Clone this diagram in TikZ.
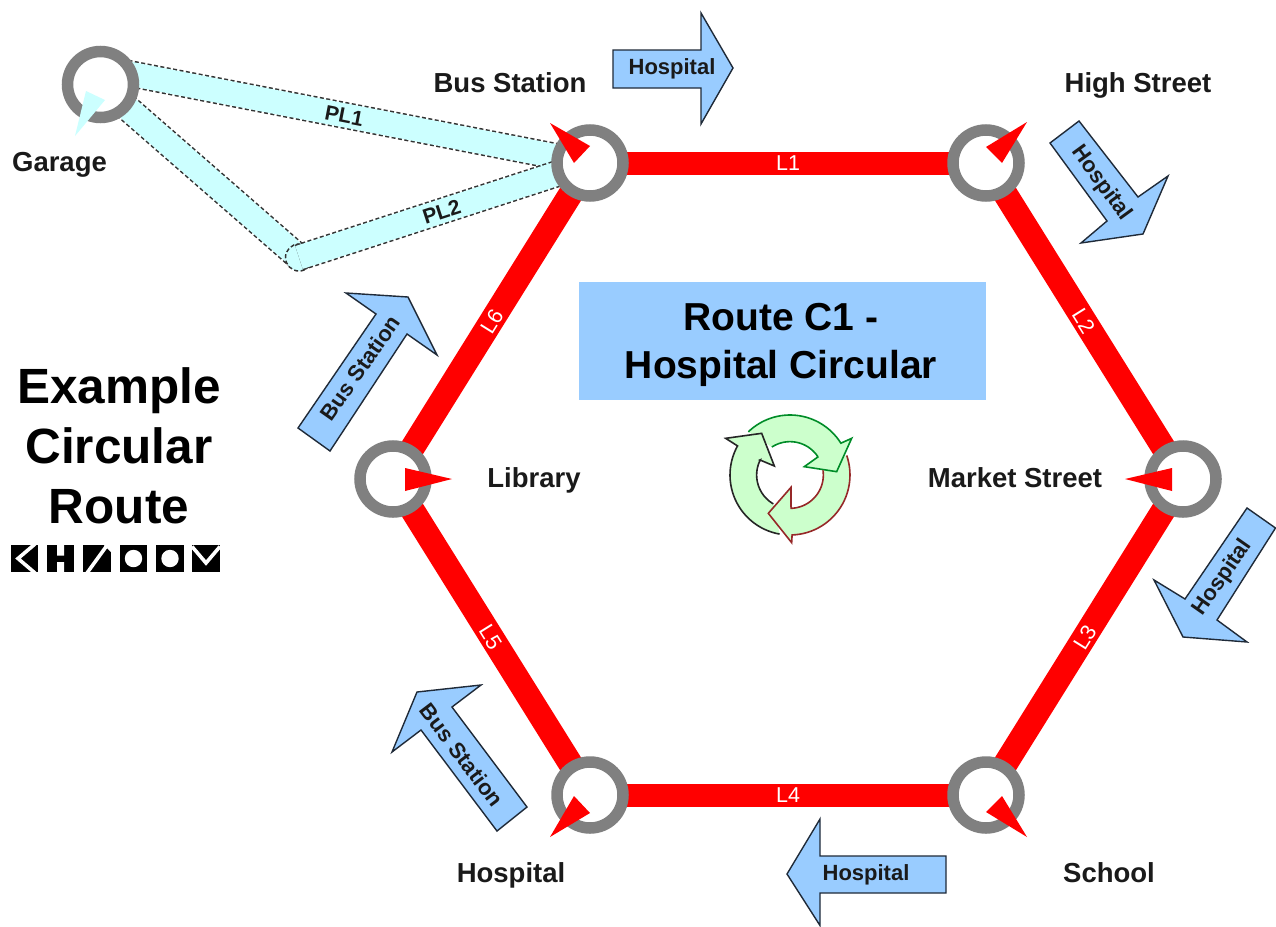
\documentclass[tikz,border=0pt]{standalone}
\usepackage{fontspec}
\setmainfont{Liberation Sans}
\pgfdeclarelayer{back}
\pgfsetlayers{back,main}
\definecolor{trackred}{HTML}{FF0000}
\definecolor{ringgrey}{HTML}{808080}
\definecolor{skyblue}{HTML}{99CCFF}
\definecolor{paleaqua}{HTML}{CCFFFF}
\definecolor{palegreen}{HTML}{CCFFCC}
\definecolor{inkdark}{HTML}{1A1A1A}
\definecolor{arrowedge}{HTML}{1F2A38}
\tikzset{
  fs/.style={font=\fontsize{#1}{#1}\selectfont},
  fsb/.style={font=\fontsize{#1}{#1}\selectfont\bfseries},
  capbox/.style={text height=#1,text depth=0pt,inner sep=0pt},
  station/.style={circle,draw=ringgrey,fill=white,line width=11.5pt,minimum size=66pt,inner sep=0pt,outer sep=0pt},
  track/.style={draw=trackred,line width=23pt},
  slanttrack/.style={draw=trackred,line width=24.5pt},
  tracklabel/.style={text=white,fs=21.5,capbox=15.5pt},
  marker/.style={fill=trackred},
  gmarker/.style={fill=paleaqua},
  stationlabel/.style={text=inkdark,fsb=27.5,capbox=19.8pt},
  dirarrow/.style={draw=arrowedge,fill=skyblue,line width=1.4pt,line join=miter},
  dirlabel/.style={text=inkdark,fsb=22,capbox=15.8pt},
  plunder/.style={draw=black!80,dash pattern=on 4pt off 2.5pt,line width=27pt},
  plfill/.style={draw=paleaqua,line width=24pt},
  pllabel/.style={text=inkdark,fsb=21,capbox=15.1pt},
  titlebox/.style={fill=skyblue,draw=none,minimum width=407pt,minimum height=118pt,inner sep=0pt},
  titletext/.style={text=black,fsb=39,capbox=28pt},
  sidetext/.style={text=black,fsb=49.5,capbox=35.6pt},
  cycfill/.style={fill=palegreen,draw=none},
  cycline/.style={line width=1.6pt,line join=miter},
}
\begin{document}
\begin{tikzpicture}[x=1pt,y=-1pt]
\useasboundingbox (0,0) rectangle (1276,926);
% stations
\node[station] (garage) at (100.5,84.5) {};
\node[station] (bus) at (590,163) {};
\node[station] (high) at (986,163) {};
\node[station] (market) at (1183,479) {};
\node[station] (school) at (986,795) {};
\node[station] (hospital) at (590,795) {};
\node[station] (library) at (393,479) {};
\coordinate (plone) at (100.5,68);
\coordinate (pltwo) at (299,257.5);
\begin{pgfonlayer}{back}
  \fill[white] (0,0) rectangle (1276,926);
  % positioning links
  \draw[plunder] (plone) -- (bus.center);
  \draw[plfill] (plone) -- (bus.center) node[pos=0.498,sloped,pllabel] (pl1) {PL1};
  \draw[plunder] (garage.center) -- (pltwo);
  \draw[plfill] (garage.center) -- (pltwo);
  \node[circle,draw=black!80,fill=paleaqua,dash pattern=on 4pt off 2.5pt,line width=1.5pt,minimum size=27pt,inner sep=0pt] (pl2corner) at (pltwo) {};
  \draw[plunder] (pltwo) -- (bus.center);
  \draw[plfill] (pltwo) -- (bus.center) node[pos=0.49,sloped,pllabel] (pl2) {PL2};
  % route
  \draw[track] (bus.center) -- (high.center) node[pos=0.5,tracklabel,sloped] (l1) {L1};
  \draw[slanttrack] (high.center) -- (market.center) node[pos=0.5,tracklabel,sloped] (l2) {L2};
  \draw[slanttrack] (market.center) -- (school.center) node[pos=0.5,tracklabel,sloped] (l3) {L3};
  \draw[track] (school.center) -- (hospital.center) node[pos=0.5,tracklabel,sloped] (l4) {L4};
  \draw[slanttrack] (hospital.center) -- (library.center) node[pos=0.5,tracklabel,sloped] (l5) {L5};
  \draw[slanttrack] (library.center) -- (bus.center) node[pos=0.5,tracklabel,sloped] (l6) {L6};
\end{pgfonlayer}
% stop markers
\fill[gmarker] (75,136) -- (86,91) -- (105,100) -- cycle;
\fill[marker] (550,123) -- (590,146) -- (574,163) -- cycle;
\fill[marker] (1027,122) -- (986,147) -- (1002,163) -- cycle;
\fill[marker] (1125,479) -- (1172,468) -- (1172,491) -- cycle;
\fill[marker] (1027,837) -- (1002,796) -- (986,812) -- cycle;
\fill[marker] (550,837) -- (574,796) -- (590,813) -- cycle;
\fill[marker] (452,479) -- (405,468) -- (405,491) -- cycle;
% stop names
\node[stationlabel] (tgarage) at (59.5,162) {Garage};
\node[stationlabel] (tbus) at (510,83) {Bus Station};
\node[stationlabel] (thigh) at (1138,83) {High Street};
\node[stationlabel] (tmarket) at (1015,478) {Market Street};
\node[stationlabel] (tschool) at (1109,873) {School};
\node[stationlabel] (thospital) at (511,873) {Hospital};
\node[stationlabel] (tlibrary) at (534,478) {Library};
% direction arrows
\draw[dirarrow] (613,50) -- (701,50) -- (701,13) -- (733,68) -- (701,124) -- (701,88) -- (613,88) -- cycle;
\node[dirlabel] (a1) at (672,67) {Hospital};
\draw[dirarrow] (1079,121) -- (1138,197) -- (1168,176) -- (1143,234) -- (1081,243) -- (1107,221) -- (1050,143) -- cycle;
\node[dirlabel,rotate=-54] (a2) at (1103,182) {Hospital};
\draw[dirarrow] (1247,508) -- (1275.5,528) -- (1217,620) -- (1247,642) -- (1183,637) -- (1154,580) -- (1185,599) -- cycle;
\node[dirlabel,rotate=55] (a3) at (1221,576) {Hospital};
\draw[dirarrow] (820,819) -- (787,874) -- (820,925.5) -- (820,893) -- (946,893) -- (946,856) -- (820,856) -- cycle;
\node[dirlabel] (a4) at (866,873) {Hospital};
\draw[dirarrow] (481,685) -- (417,692) -- (392,752) -- (421,730) -- (497,831) -- (527,807) -- (452,707) -- cycle;
\node[dirlabel,rotate=-53] (a5) at (462,755) {Bus Station};
\draw[dirarrow] (346,293) -- (408,297) -- (437,355) -- (407,334) -- (330,451) -- (298,428) -- (376,314) -- cycle;
\node[dirlabel,rotate=55] (a6) at (360,368) {Bus Station};
% title
\node[titlebox] (title) at (782.5,341) {};
\node[titletext] (t1) at (781,316) {Route C1 -};
\node[titletext] (t2) at (781,364) {Hospital Circular};
% side heading
\node[sidetext] (s1) at (119,386) {Example};
\node[sidetext] (s2) at (119,446) {Circular};
\node[sidetext] (s3) at (119,506) {Route};
% logo
\fill[black] (11,545) rectangle (37.5,572);
\draw[white,line width=3.6pt] (35,544) -- (18,558.5) -- (35,573);
\fill[black] (47,545) rectangle (74,572);
\fill[white] (57,545) rectangle (64,555.5) (57,562) rectangle (64,572);
\fill[black] (83,545) rectangle (111,572);
\draw[white,line width=3.6pt] (108,544) -- (87,573);
\fill[white] (104,545) -- (111,545) -- (111,552) -- cycle;
\fill[black] (120,545) rectangle (147,572);
\fill[white] (133.5,558.5) circle[radius=8.7];
\fill[black] (156,545) rectangle (184,572);
\fill[white] (170,558.5) circle[radius=8.7];
\fill[black] (192,545) rectangle (220,572);
\draw[white,line width=3.6pt] (192,546.5) -- (206,563) -- (220,546.5);
% cycle symbol
\begin{scope}[shift={(710,400)},x=0.3333pt,y=-0.3333pt]
  \def\cycgreen{plot[domain=134:32,samples=30] ({240+180*cos(\x)},{225-180*sin(\x)}) -- (425,115) -- (380,215) -- (283,200) -- (325,170) -- plot[domain=33:123,samples=30] ({240+100*cos(\x)},{225-100*sin(\x)})}
  \def\cycred{plot[domain=19:-88,samples=30] ({240+180*cos(\x)},{225-180*sin(\x)}) -- (245,428) -- (175,340) -- (243,262) -- (243,320) -- plot[domain=-88:8,samples=30] ({240+100*cos(\x)},{225-100*sin(\x)})}
  \def\cycblack{plot[domain=260:151,samples=30] ({240+180*cos(\x)},{225-180*sin(\x)}) -- (47,115) -- (155,100) -- (193,198) -- (150,180) -- plot[domain=153:240,samples=30] ({240+100*cos(\x)},{225-100*sin(\x)})}
  \path[cycfill] \cycgreen -- cycle;
  \path[cycfill] \cycred -- cycle;
  \path[cycfill] \cycblack -- cycle;
  \draw[cycline,draw={rgb,255:red,0;green,140;blue,40}] \cycgreen;
  \draw[cycline,draw={rgb,255:red,150;green,40;blue,40}] \cycred;
  \draw[cycline,draw=black!85] \cycblack;
\end{scope}
\end{tikzpicture}
\end{document}
